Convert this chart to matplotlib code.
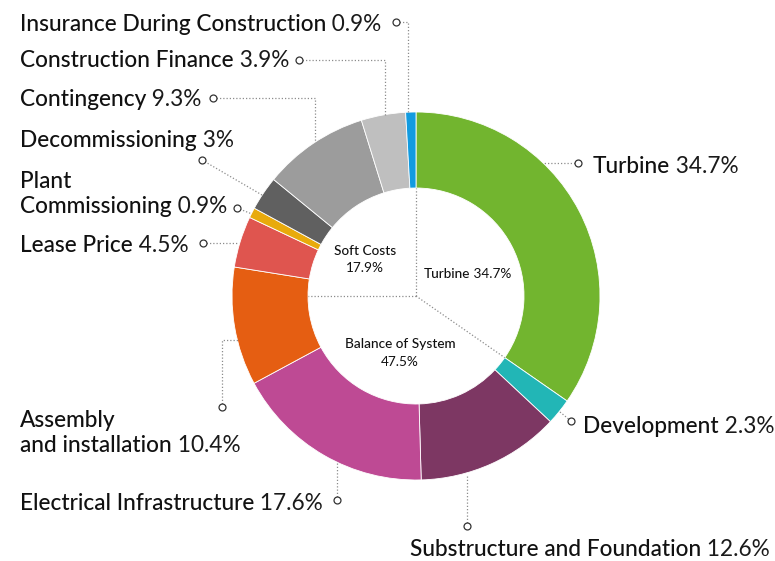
import matplotlib
matplotlib.use("Agg")
import numpy as np
import matplotlib.pyplot as plt

plt.rcParams['font.family'] = ['Lato', 'DejaVu Sans']

# ---------------- data ----------------
categories = ["Turbine", "Development", "Substructure and Foundation",
              "Electrical Infrastructure", "Assembly and installation",
              "Lease Price", "Plant Commissioning", "Decommissioning",
              "Contingency", "Construction Finance",
              "Insurance During Construction"]
values = [34.7, 2.3, 12.6, 17.6, 10.4, 4.5, 0.9, 3.0, 9.3, 3.9, 0.9]
value_labels = ["34.7%", "2.3%", "12.6%", "17.6%", "10.4%", "4.5%",
                "0.9%", "3%", "9.3%", "3.9%", "0.9%"]
colors = ["#72b52f", "#22b6b6", "#7d3763", "#be4a94", "#e55e12",
          "#df554f", "#e8aa0c", "#606060", "#9c9c9c", "#bfbfbf", "#129be0"]

group_names = ["Turbine", "Balance of System", "Soft Costs"]
group_values = ["34.7%", "47.5%", "17.9%"]

# ---------------- layout ----------------
W, H = 775, 561
CX, CY = 416, 296
R_OUT, R_W = 184, 76


def P(x, y):
    return x, H - y


# label lines (text lines, x, baseline y of last line) and leader paths
label_text = {
    "Turbine": (["Turbine"], 593, 173),
    "Development": (["Development"], 583, 433),
    "Substructure and Foundation": (["Substructure and Foundation"], 410, 556),
    "Electrical Infrastructure": (["Electrical Infrastructure"], 20, 510),
    "Assembly and installation": (["Assembly", "and installation"], 20, 452),
    "Lease Price": (["Lease Price"], 20, 252),
    "Plant Commissioning": (["Plant", "Commissioning"], 20, 213),
    "Decommissioning": (["Decommissioning"], 20, 147),
    "Contingency": (["Contingency"], 20, 106),
    "Construction Finance": (["Construction Finance"], 20, 67),
    "Insurance During Construction": (["Insurance During Construction"], 20, 31),
}
leaders = {
    "Turbine": [(578, 163), (543, 163)],
    "Development": [(571, 421), (560, 412)],
    "Substructure and Foundation": [(467, 526), (467, 475)],
    "Electrical Infrastructure": [(337, 500), (337, 462)],
    "Assembly and installation": [(222, 407), (222, 340), (238, 340)],
    "Lease Price": [(203, 243), (238, 243)],
    "Plant Commissioning": [(237, 208), (252, 214)],
    "Decommissioning": [(202, 160), (262, 195)],
    "Contingency": [(213, 98), (315, 98), (315, 142)],
    "Construction Finance": [(299, 60), (385, 60), (385, 116)],
    "Insurance During Construction": [(396, 22), (408, 22), (408, 113)],
}

fig = plt.figure(figsize=(W / 100, H / 100), dpi=100)
ax = fig.add_axes([0, 0, 1, 1])

ax.pie(values, colors=colors, startangle=90, counterclock=False,
       radius=R_OUT, center=P(CX, CY),
       wedgeprops=dict(width=R_W, edgecolor="white", linewidth=0.6))

ax.set_xlim(0, W)
ax.set_ylim(0, H)
ax.set_aspect("auto")
ax.axis("off")

DOT = dict(color="#8c8c8c", linewidth=0.9, linestyle=(0, (1, 1.6)))

# inner dividers (fractions of full turn, clockwise from top)
r_in = R_OUT - R_W
cum = np.cumsum(values) / sum(values)
divider_fracs = [0.0, cum[0], 0.75]
cx, cy = P(CX, CY)
for f in divider_fracs:
    th = 2 * np.pi * f
    ax.plot([cx, cx + r_in * np.sin(th)], [cy, cy + r_in * np.cos(th)], **DOT)

# leaders
for cat in categories:
    pts = leaders[cat]
    xs = [p[0] for p in pts]
    ys = [H - p[1] for p in pts]
    ax.plot(xs, ys, **DOT, zorder=3)
    ax.plot(xs[0], ys[0], "o", ms=5, mfc="white", mec="#333333", mew=0.9, zorder=4)

FS = 16.3
NAME_KW = dict(fontsize=FS, color="#111111", fontweight="medium")
NUM_KW = dict(fontsize=FS, color="#1a1a1a", fontweight="normal")
LINE_GAP = 25

for cat, val in zip(categories, value_labels):
    lines, x, yb = label_text[cat]
    n = len(lines)
    for i, ln in enumerate(lines):
        y = yb - (n - 1 - i) * LINE_GAP
        t = ax.text(*P(x, y), ln, ha="left", va="baseline", **NAME_KW)
        if i == n - 1:
            ax.annotate(" " + val, xy=(1, 0), xycoords=t, ha="left", va="bottom",
                        **NUM_KW)

# inner group labels
IN_FS = 9.8
ax.text(*P(365, 251), group_names[2], ha="center", va="center", fontsize=IN_FS,
        color="#111111", fontweight="medium")
ax.text(*P(365, 268), group_values[2], ha="center", va="center", fontsize=IN_FS,
        color="#111111")
t = ax.text(*P(424, 274), group_names[0], ha="left", va="center", fontsize=IN_FS,
            color="#111111", fontweight="medium")
ax.annotate(" " + group_values[0], xy=(1, 0), xycoords=t, ha="left", va="bottom",
            fontsize=IN_FS, color="#111111")
ax.text(*P(400, 344), group_names[1], ha="center", va="center", fontsize=IN_FS,
        color="#111111", fontweight="medium")
ax.text(*P(400, 362), group_values[1], ha="center", va="center", fontsize=IN_FS,
        color="#111111")

fig.savefig("out.png", dpi=100, facecolor="white")
